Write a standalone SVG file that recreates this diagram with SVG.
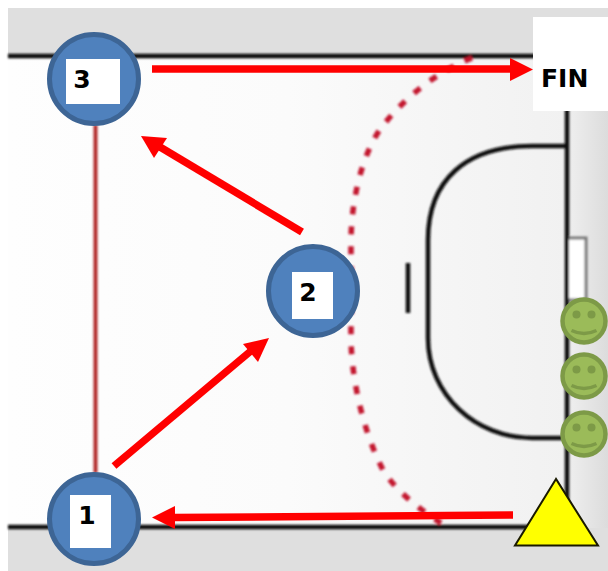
<svg xmlns="http://www.w3.org/2000/svg" width="608" height="571" viewBox="0 0 608 571">
  <style>
    .lbl{font-family:"DejaVu Sans","Liberation Sans",sans-serif;font-weight:700;font-size:25px;fill:#000}
    .player{fill:#4f81bd;stroke:#3d6595;stroke-width:5}
    .box{fill:#fff}
    .court{fill:none;stroke:#111;stroke-width:4.5}
    .arrow{fill:none;stroke:#f00;stroke-width:7.5}
    .head{fill:#f00}
    .face{fill:#9bbb59;stroke:#7d9a47;stroke-width:4.5}
    .eye{fill:#7d9a47}
    .smile{fill:none;stroke:#7d9a47;stroke-width:3.5}
  </style>
  <defs>
    <linearGradient id="floor" x1="0" x2="1" y1="0" y2="0">
      <stop offset="0" stop-color="#fefefe"/><stop offset="0.5" stop-color="#fbfbfb"/><stop offset="1" stop-color="#f1f1f1"/>
    </linearGradient>
    <linearGradient id="side" x1="0" x2="1" y1="0" y2="0">
      <stop offset="0" stop-color="#efefef"/><stop offset="1" stop-color="#dcdcdc"/>
    </linearGradient>
    <filter id="soft" x="-5%" y="-5%" width="110%" height="110%"><feGaussianBlur stdDeviation="0.9"/></filter>
    <g id="smiley">
      <circle class="face" r="21.500"/>
      <circle class="eye" cx="-7.500" cy="-6.500" r="4"/>
      <circle class="eye" cx="7.500" cy="-6.500" r="4"/>
      <path class="smile" d="M-12.500 9.500Q0 15.500 12.500 9.500"/>
    </g>
  </defs>

  <g id="court">
    <rect x="8" y="8" width="600" height="563" fill="#dfdfdf"/>
    <rect x="568" y="56" width="40" height="472" fill="url(#side)"/>
    <rect x="8" y="58" width="559" height="468" fill="url(#floor)"/>
    <g filter="url(#soft)">
      <path class="court" d="M8 56H535"/>
      <path class="court" d="M8 527H530"/>
      <path class="court" d="M567 105V527"/>
      <path class="court" d="M567 146H532C466 146 428 180 428 240V338C428 395 476 438 532 438H567"/>
      <path class="court" d="M408 263V313"/>
      <path fill="#fff" stroke="#777" stroke-width="3" d="M569 238H586V300H569"/>
      <path fill="none" stroke="#b22a2a" stroke-width="4" d="M95.500 125V473"/>
      <path fill="none" stroke="#c3142d" stroke-width="5.500" stroke-dasharray="8 12" d="M472 58C436 72 404 98 381 128C362 155 351 200 351 243V340C352 385 365 435 383 470C395 490 420 510 441 523"/>
    </g>
  </g>

  <g id="connectors">
    <path class="arrow" d="M152 69H512"/>
    <path class="head" d="M533 69.500L510 58V81Z"/>
    <path class="arrow" d="M302 232L160 147"/>
    <path class="head" d="M141 136L167 138L154 158Z"/>
    <path class="arrow" d="M114 466L252 350"/>
    <path class="head" d="M269 338L243 344L258 362Z"/>
    <path class="arrow" d="M513 515L174 517.500"/>
    <path class="head" d="M152 517.500L175 506V529Z"/>
  </g>

  <g id="node-3">
    <circle class="player" cx="94" cy="79" r="44.500"/>
    <rect class="box" x="66" y="59" width="54" height="45"/>
    <text class="lbl" x="82" y="88" text-anchor="middle">3</text>
  </g>
  <g id="node-2">
    <circle class="player" cx="313" cy="291" r="44.500"/>
    <rect class="box" x="292" y="272" width="41" height="47"/>
    <text class="lbl" x="308" y="301" text-anchor="middle">2</text>
  </g>
  <g id="node-1">
    <circle class="player" cx="94" cy="519" r="44.500"/>
    <rect class="box" x="70" y="495" width="41" height="53"/>
    <text class="lbl" x="87" y="524" text-anchor="middle">1</text>
  </g>
  <g id="node-fin">
    <rect class="box" x="533" y="17" width="75" height="94"/>
    <text class="lbl" x="541" y="87">FIN</text>
  </g>
  <g id="defender-1"><use href="#smiley" x="584" y="321"/></g>
  <g id="defender-2"><use href="#smiley" x="584" y="376"/></g>
  <g id="defender-3"><use href="#smiley" x="584" y="434"/></g>
  <g id="cone">
    <path fill="#ff0" stroke="#1a1a00" stroke-width="2" d="M556 479L515 545.500H598Z"/>
  </g>
</svg>
